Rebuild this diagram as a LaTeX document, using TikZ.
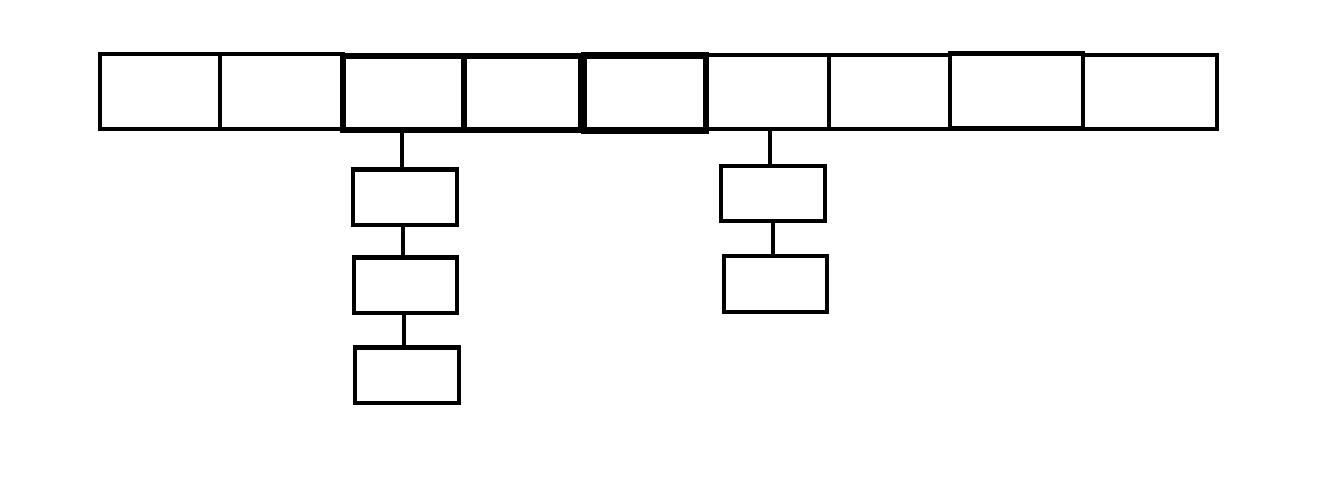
\documentclass[tikz,border=0pt]{standalone}
\usetikzlibrary{calc}
\begin{document}
\begin{tikzpicture}[x=1pt,y=-1pt,
  cell/.style={draw=black,line width=4.8pt,inner sep=0pt,rectangle},
  bold/.style={line width=6.2pt},
  link/.style={draw=black,line width=4.2pt}]
\useasboundingbox[fill=white] (0,0) rectangle (1317,488);
\newcommand{\cellbox}[6][]{%
  \node[cell,#1,minimum width={#4-#2},minimum height={#5-#3}] (#6) at ({(#2+#4)/2},{(#3+#5)/2}) {};}
% top row
\cellbox{100}{54}{220}{129}{B1}
\cellbox{220}{54}{343}{129}{B2}
\cellbox[bold]{343}{56}{464}{130}{B3}
\cellbox[bold]{464}{56}{581}{130}{B4}
\cellbox[bold]{584}{55.5}{706}{130.5}{B5}
\cellbox{706}{55}{829}{129}{B6}
\cellbox{829}{55}{950}{129}{B7}
\cellbox{950}{53.5}{1083}{128.5}{B8}
\cellbox{1083}{55}{1217}{129}{B9}
% first chain
\cellbox{353}{169.5}{457}{225}{C1}
\cellbox{354}{257.5}{457}{313}{C2}
\cellbox{355}{347.5}{459}{403}{C3}
% second chain
\cellbox{721}{166}{825}{221}{D1}
\cellbox{724}{256}{827}{312}{D2}
% connectors
\draw[link] (B3.south -| 402,0) -- (C1.north -| 402,0);
\draw[link] (C1.south -| 403,0) -- (C2.north -| 403,0);
\draw[link] (C2.south -| 404,0) -- (C3.north -| 404,0);
\draw[link] (B6.south -| 770,0) -- (D1.north -| 770,0);
\draw[link] (D1.south -| 773,0) -- (D2.north -| 773,0);
\end{tikzpicture}
\end{document}
